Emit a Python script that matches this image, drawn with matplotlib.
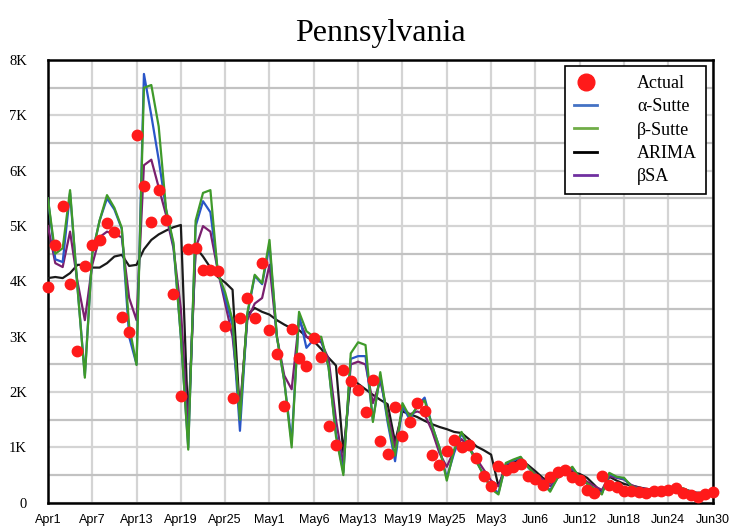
import numpy as np
import matplotlib
matplotlib.use("Agg")
import matplotlib.pyplot as plt
from matplotlib.lines import Line2D

# Datos diarios (Apr1 .. Jun30)
actual = [3900, 4660, 5360, 3950, 2745, 4280, 4660, 4750, 5060, 4900,
          3360, 3090, 6650, 5720, 5080, 5650, 5110, 3775, 1930, 4590,
          4600, 4210, 4210, 4190, 3200, 1900, 3340, 3700, 3340, 4330,
          3120, 2690, 1750, 3140, 2620, 2470, 2980, 2640, 1390, 1050,
          2400, 2200, 2040, 1640, 2220, 1120, 885, 1730, 1210, 1460,
          1800, 1660, 870, 690, 940, 1140, 1010, 1050, 810, 490,
          310, 670, 600, 650, 700, 490, 430, 325, 470, 560,
          600, 470, 415, 235, 180, 490, 325, 290, 215, 215,
          200, 180, 215, 215, 235, 270, 180, 145, 110, 160, 200]

alpha_sutte = [5500, 4400, 4350, 5600, 3900, 2300, 4500, 5100, 5500, 5300,
               4950, 3000, 2500, 7750, 7000, 6200, 5300, 4650, 3000, 1000,
               5000, 5450, 5250, 4200, 3700, 3200, 1300, 3400, 4100, 3950,
               4650, 3000, 2200, 1100, 3400, 2800, 2950, 2950, 2450, 1250,
               550, 2600, 2650, 2650, 1500, 2300, 1450, 750, 1750, 1500,
               1750, 1900, 1400, 1000, 450, 900, 1250, 1000, 750, 500,
               280, 180, 700, 760, 820, 640, 500, 350, 230, 450,
               540, 630, 450, 340, 250, 170, 520, 460, 430, 300,
               250, 230, 220, 230, 240, 250, 255, 200, 150, 125, 170]

beta_sutte = [5500, 4500, 4600, 5650, 3900, 2260, 4500, 5100, 5560, 5330,
              4970, 3200, 2490, 7500, 7550, 6800, 5300, 4700, 3000, 960,
              5100, 5600, 5650, 4150, 3800, 3300, 1500, 3430, 4120, 3970,
              4750, 3000, 2200, 1000, 3450, 3100, 3000, 3000, 2450, 1200,
              500, 2700, 2900, 2850, 1460, 2360, 1500, 850, 1800, 1550,
              1730, 1850, 1400, 1000, 400, 960, 1280, 1000, 750, 500,
              250, 150, 720, 780, 830, 650, 500, 350, 200, 450,
              550, 650, 450, 350, 250, 150, 540, 470, 450, 300,
              250, 230, 220, 230, 240, 250, 260, 200, 150, 120, 170]

arima = [4060, 4080, 4060, 4150, 4300, 4300, 4250, 4250, 4330, 4450,
         4480, 4280, 4300, 4580, 4750, 4850, 4920, 4980, 5020, 1400,
         4620, 4450, 4250, 4080, 3980, 3850, 1600, 3400, 3520, 3450,
         3400, 3300, 3220, 3150, 3120, 3000, 2920, 2780, 2620, 2480,
         900, 2250, 2150, 2050, 1950, 1860, 1780, 1100, 1650, 1600,
         1550, 1480, 1420, 1370, 1330, 1280, 1260, 1150, 1020, 950,
         870, 300, 680, 730, 780, 680, 570, 450, 360, 500,
         560, 560, 520, 450, 320, 180, 470, 400, 340, 310,
         280, 250, 235, 220, 210, 205, 200, 190, 180, 185, 230]

beta_sa = [5000, 4330, 4260, 4900, 4000, 3300, 4300, 4800, 4900, 4850,
           4800, 3700, 3300, 6100, 6200, 5700, 5200, 4600, 3500, 1300,
           4600, 5000, 4900, 4200, 3600, 3000, 1700, 3300, 3600, 3700,
           4300, 3000, 2300, 2050, 3300, 3000, 2950, 2900, 2600, 1500,
           700, 2500, 2550, 2500, 1800, 2200, 1600, 1000, 1700, 1600,
           1650, 1600, 1300, 900, 650, 950, 1150, 1000, 800, 600,
           400, 300, 650, 700, 760, 650, 520, 420, 300, 450,
           530, 600, 470, 380, 300, 230, 480, 450, 420, 320,
           270, 250, 230, 230, 240, 250, 250, 210, 170, 140, 170]

fechas = ["Apr1", "Apr7", "Apr13", "Apr19", "Apr25", "May1", "May6", "May13",
          "May19", "May25", "May3", "Jun6", "Jun12", "Jun18", "Jun24", "Jun30"]
etiquetas_y = ["0", "1K", "2K", "3K", "4K", "5K", "6K", "7K", "8K"]

dias = np.arange(len(actual))

fig = plt.figure(figsize=(7.37, 5.32), dpi=100)
ax = fig.add_axes([0.065, 0.055, 0.902, 0.832])

# Lineas de pronostico
ax.plot(dias, arima, color="#1a1a1a", lw=1.6, zorder=3)
ax.plot(dias, beta_sa, color="#7a1f6e", lw=1.6, zorder=4)
ax.plot(dias, alpha_sutte, color="#2a55c8", lw=1.6, zorder=5)
ax.plot(dias, beta_sutte, color="#3f9a2a", lw=1.6, zorder=6)
ax.plot(dias, actual, "o", color="#ff1a1a", ms=7.5, zorder=7, clip_on=False)

ax.set_xlim(0, 90)
ax.set_ylim(0, 8000)
ax.set_xticks(np.arange(0, 91, 6))
ax.set_xticklabels(fechas, fontfamily="Liberation Sans", fontsize=9)
ax.set_yticks(np.arange(0, 8001, 1000))
ax.set_yticklabels(etiquetas_y, fontfamily="Liberation Serif", fontsize=10.5)
ax.set_yticks(np.arange(500, 8000, 1000), minor=True)
ax.tick_params(which="both", length=0)
ax.tick_params(axis="x", pad=8)
ax.tick_params(axis="y", pad=15)

# Grilla
ax.grid(True, which="major", color="#d4d4d4", lw=1.6)
ax.grid(True, which="minor", axis="y", color="#c2c2c2", lw=1.6)
ax.set_axisbelow(True)

for s in ax.spines.values():
    s.set_linewidth(1.8)
    s.set_color("black")

ax.set_title("Pennsylvania", fontfamily="Liberation Serif", fontsize=23, pad=14)

handles = [
    Line2D([], [], marker="o", color="#ff1a1a", ls="", ms=12),
    Line2D([], [], color="#4472c4", lw=2),
    Line2D([], [], color="#70ad47", lw=2),
    Line2D([], [], color="black", lw=2),
    Line2D([], [], color="#7030a0", lw=2),
]
nombres = ["Actual", "α-Sutte", "β-Sutte", "ARIMA", "βSA"]
leg = ax.legend(handles, nombres, loc="upper right", bbox_to_anchor=(0.99, 0.987),
                prop={"family": "Liberation Serif", "size": 13}, fancybox=False,
                edgecolor="black", framealpha=1, handlelength=1.3, handletextpad=2.2,
                borderpad=0.5, labelspacing=0.35, borderaxespad=0)
leg.get_frame().set_linewidth(1.2)
leg.set_zorder(10)

fig.savefig("out.png", dpi=100)
